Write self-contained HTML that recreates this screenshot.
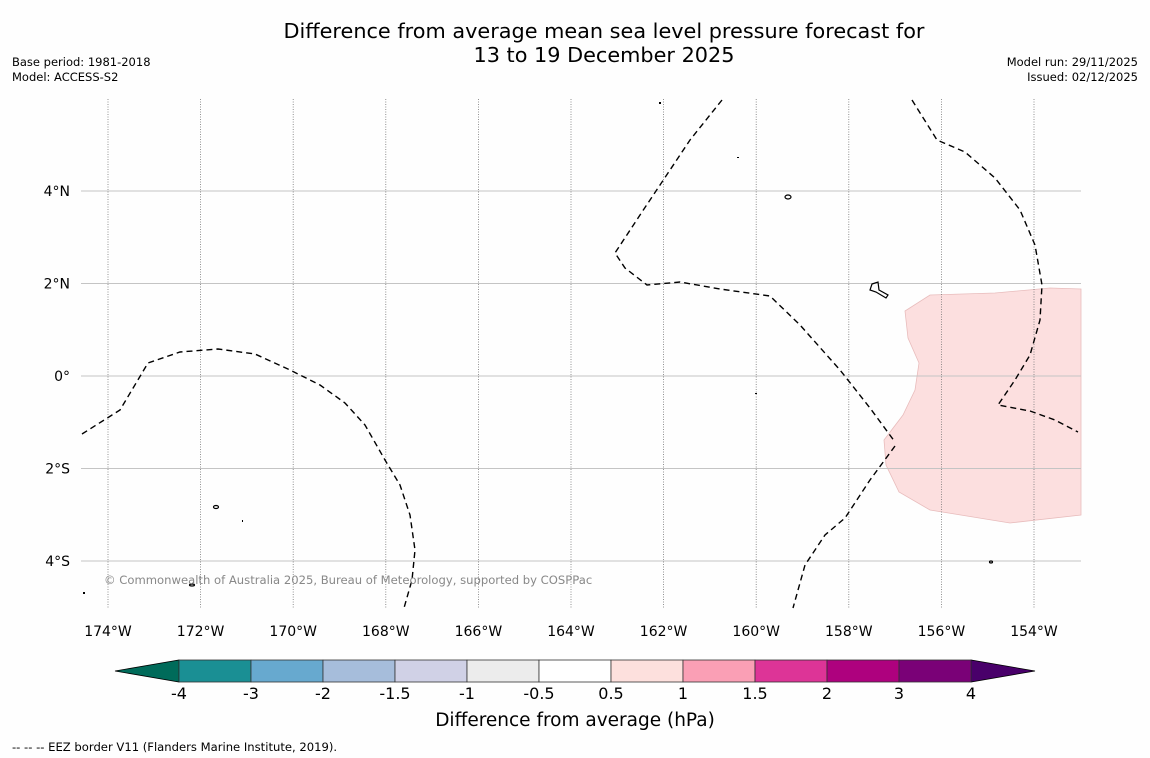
<!DOCTYPE html>
<html><head><meta charset="utf-8"><style>
body{margin:0;background:#fefefe;}
svg{display:block;font-family:"DejaVu Sans","Liberation Sans",sans-serif;}
</style></head><body>
<svg id="chart" width="1150" height="758" viewBox="0 0 1150 758">
<rect x="0" y="0" width="1150" height="758" fill="#fefefe"/>
<text x="604" y="38" font-size="20.8" text-anchor="middle" fill="#000">Difference from average mean sea level pressure forecast for</text>
<text x="604" y="62" font-size="20.8" text-anchor="middle" fill="#000">13 to 19 December 2025</text>
<text x="12" y="66" font-size="11.5">Base period: 1981-2018</text>
<text x="12" y="81" font-size="11.5">Model: ACCESS-S2</text>
<text x="1138" y="66" font-size="11.5" text-anchor="end">Model run: 29/11/2025</text>
<text x="1138" y="81" font-size="11.5" text-anchor="end">Issued: 02/12/2025</text>
<g id="map">
<polygon fill="#fcdfdf" stroke="#e8bcbc" stroke-width="0.8" points="905,311 930,295 995,293 1050,288 1081,289 1081,515 1010,523 930,510 899,492 886,465 884,440 903,415 915,390 919,363 908,338"/>
<g id="grid"></g>
<g fill="none" stroke="#000" stroke-width="1.4" stroke-dasharray="6,4">
<polyline points="82,434 120,410 148,363 180,352 218,349 255,354 290,370 320,385 345,403 365,425 385,460 400,485 410,515 415,550 412,580 404,608"/>
<polyline points="722,100 690,140 660,185 640,215 615,253 625,268 647,285 680,282 720,289 770,296 800,325 840,370 870,408 895,442"/>
<polyline points="895,446 870,480 845,518 825,535 805,565 793,608"/>
<polyline points="912,100 937,140 965,152 995,178 1020,210 1035,245 1042,285 1040,320 1030,355 1015,380 998,405 1030,411 1055,420 1078,432"/>
</g>
<g fill="none" stroke="#000" stroke-width="1.2">
<ellipse cx="788" cy="197" rx="3" ry="2"/>
<path d="M872,284 L878,282 L879,290 L888,295 L886,298 L876,292 L870,290 Z"/>
<ellipse cx="216" cy="507" rx="2.5" ry="1.5"/>
<ellipse cx="192" cy="585" rx="2.5" ry="1"/>
<ellipse cx="991" cy="562" rx="1.5" ry="1"/>
</g>
<g fill="#000">
<rect x="659" y="102" width="2" height="2"/><rect x="737" y="157" width="2" height="1"/><rect x="242" y="520" width="1" height="2"/><rect x="755" y="393" width="2" height="1"/><rect x="83" y="592" width="2" height="2"/>
</g>
<text x="104" y="584" font-size="11.6" fill="#888">© Commonwealth of Australia 2025, Bureau of Meteorology, supported by COSPPac</text>
</g>
<g id="cbar"></g>
<text x="575" y="726" font-size="18.5" text-anchor="middle">Difference from average (hPa)</text>
<text x="12" y="751" font-size="11.6">--  --  -- EEZ border V11 (Flanders Marine Institute, 2019).</text>
</svg>
<script>
const lonTicks = [-174,-172,-170,-168,-166,-164,-162,-160,-158,-156,-154];
const lonLabels = ["174°W","172°W","170°W","168°W","166°W","164°W","162°W","160°W","158°W","156°W","154°W"];
const latTicks = [4,2,0,-2,-4];
const latLabels = ["4°N","2°N","0°","2°S","4°S"];
const cbarLevels = ["-4","-3","-2","-1.5","-1","-0.5","0.5","1","1.5","2","3","4"];
const cbarColors = ["#1a8f94","#67a9cf","#a6bddb","#d0d1e6","#ececec","#ffffff","#fde0dd","#fa9fb5","#dd3497","#ae017e","#7a0177"];
const cbarLowColor = "#006b5a", cbarHighColor = "#49006a";
const NS="http://www.w3.org/2000/svg";
const xLon = lon => 108 + (lon + 174) * 46.3;
const yLat = lat => 376 - lat * 46.25;
function mk(tag, attrs, parent){const e=document.createElementNS(NS,tag);for(const k in attrs)e.setAttribute(k,attrs[k]);parent.appendChild(e);return e;}
const grid=document.getElementById('grid');
lonTicks.forEach((lon,i)=>{
  const x=xLon(lon);
  const l=mk('line',{x1:x,y1:99,x2:x,y2:608,stroke:'#777','stroke-width':0.8,'stroke-dasharray':'1,1.5'},grid);
  
  
  const t=mk('text',{x:x,y:636,'font-size':14,'text-anchor':'middle'},grid);
  t.textContent=lonLabels[i];
  
  
});
latTicks.forEach((lat,i)=>{
  const y=yLat(lat);
  const l=mk('line',{x1:81,y1:y,x2:1081,y2:y,stroke:'#c4c4c4','stroke-width':1},grid);
  
  
  const t=mk('text',{x:70,y:y+5,'font-size':14,'text-anchor':'end'},grid);
  t.textContent=latLabels[i];
  
  
});
const cb=document.getElementById('cbar');
const cx0=179, cw=72, cy=660, ch=22, n=cbarColors.length;
const lt=mk('polygon',{points:`${cx0},${cy} ${cx0},${cy+ch} 115,${cy+ch/2}`,fill:cbarLowColor,stroke:'#000','stroke-width':0.8},cb);


const xe=cx0+n*cw;
const rt=mk('polygon',{points:`${xe},${cy} ${xe},${cy+ch} 1035,${cy+ch/2}`,fill:cbarHighColor,stroke:'#000','stroke-width':0.8},cb);


cbarColors.forEach((c,i)=>{
  const r=mk('rect',{x:cx0+i*cw,y:cy,width:cw,height:ch,fill:c,stroke:'#333','stroke-width':0.8},cb);
  
  
});
cbarLevels.forEach((v,i)=>{
  const t=mk('text',{x:cx0+i*cw,y:699,'font-size':16,'text-anchor':'middle'},cb);
  t.textContent=v;
  
  
});
</script>
</body></html>
